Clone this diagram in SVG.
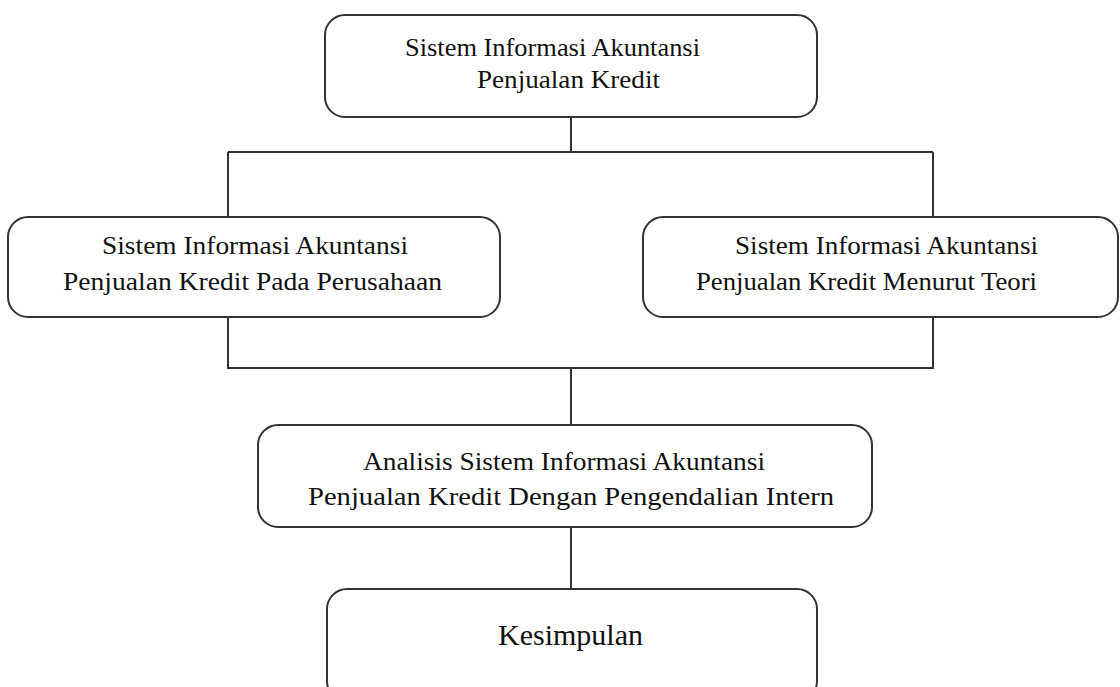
<svg xmlns="http://www.w3.org/2000/svg" width="1120" height="687" viewBox="0 0 1120 687">
<style>
.box{fill:#fff;stroke:#333;stroke-width:2}
.ln{fill:none;stroke:#333;stroke-width:2}
text{font-family:"Liberation Serif","Times New Roman",serif;fill:#111}
.s{font-size:25px}
.k{font-size:30px}
</style>
<rect width="1120" height="687" fill="#fff"/>
<g id="connectors">
<path class="ln" d="M571 117V152M228 152H933M228 152V217M933 152V217M228 317V368H933V317M571 368V425M571 527V589"/>
</g>
<g id="n1">
<rect class="box" x="325" y="15" width="492" height="102" rx="20"/>
<text class="s" x="405" y="56" textLength="295" lengthAdjust="spacingAndGlyphs">Sistem Informasi Akuntansi</text>
<text class="s" x="477" y="88" textLength="183" lengthAdjust="spacingAndGlyphs">Penjualan Kredit</text>
</g>
<g id="n2">
<rect class="box" x="8" y="217" width="492" height="100" rx="20"/>
<text class="s" x="102" y="254" textLength="306" lengthAdjust="spacingAndGlyphs">Sistem Informasi Akuntansi</text>
<text class="s" x="63" y="290" textLength="379" lengthAdjust="spacingAndGlyphs">Penjualan Kredit Pada Perusahaan</text>
</g>
<g id="n3">
<rect class="box" x="643" y="217" width="475" height="100" rx="20"/>
<text class="s" x="735" y="254" textLength="303" lengthAdjust="spacingAndGlyphs">Sistem Informasi Akuntansi</text>
<text class="s" x="696" y="290" textLength="341" lengthAdjust="spacingAndGlyphs">Penjualan Kredit Menurut Teori</text>
</g>
<g id="n4">
<rect class="box" x="258" y="425" width="614" height="102" rx="20"/>
<text class="s" x="363" y="470" textLength="402" lengthAdjust="spacingAndGlyphs">Analisis Sistem Informasi Akuntansi</text>
<text class="s" x="308" y="505" textLength="526" lengthAdjust="spacingAndGlyphs">Penjualan Kredit Dengan Pengendalian Intern</text>
</g>
<g id="n5">
<rect class="box" x="327" y="589" width="490" height="112" rx="20"/>
<text class="k" x="498" y="645" textLength="145" lengthAdjust="spacingAndGlyphs">Kesimpulan</text>
</g>
</svg>
